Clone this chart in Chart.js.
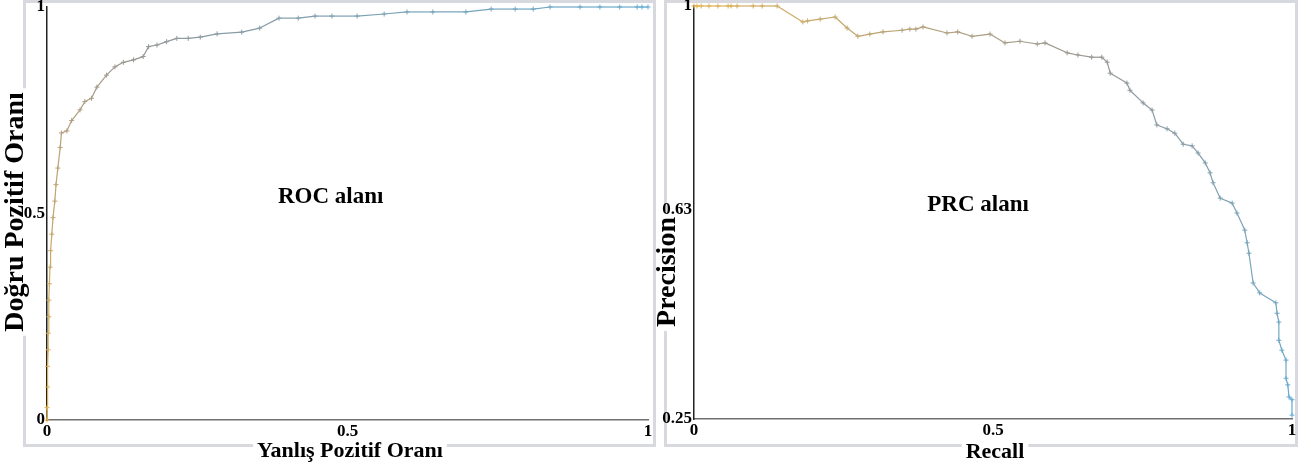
<!DOCTYPE html>
<html><head><meta charset="utf-8">
<script src="https://cdn.jsdelivr.net/npm/chart.js@4.4.0/dist/chart.umd.min.js"></script>
<style>
html,body{margin:0;padding:0;background:#fff;}
#wrap{position:relative;width:1311px;height:468px;overflow:hidden;background:#fff;}
#c1{position:absolute;left:0;top:0;}
#c2{position:absolute;left:656px;top:0;}
</style></head><body>
<div id="wrap"><canvas id="c1" width="656" height="468"></canvas><canvas id="c2" width="655" height="468"></canvas></div>
<script>
// ---- data ----
const rocFpr = [0,0,0.001,0.001,0.002,0.002,0.003,0.003,0.004,0.005,0.006,0.008,0.010,0.013,0.015,0.018,0.022,0.024,0.033,0.041,0.055,0.063,0.074,0.083,0.099,0.113,0.127,0.144,0.160,0.169,0.183,0.199,0.216,0.235,0.255,0.283,0.324,0.354,0.386,0.418,0.446,0.474,0.516,0.561,0.599,0.642,0.697,0.739,0.779,0.809,0.837,0.887,0.920,0.953,0.982,0.990,1];
const rocTpr = [0,0.03,0.08,0.13,0.17,0.21,0.25,0.29,0.33,0.37,0.41,0.45,0.49,0.53,0.57,0.61,0.66,0.695,0.70,0.725,0.751,0.771,0.779,0.806,0.835,0.855,0.866,0.872,0.880,0.904,0.908,0.916,0.924,0.924,0.927,0.935,0.939,0.949,0.973,0.973,0.978,0.978,0.978,0.983,0.988,0.988,0.988,0.995,0.995,0.995,1,1,1,1,1,1,1];
const prcRecall = [0,0.005,0.012,0.025,0.040,0.057,0.062,0.072,0.099,0.114,0.139,0.182,0.190,0.211,0.236,0.256,0.274,0.294,0.316,0.348,0.361,0.371,0.383,0.423,0.441,0.465,0.495,0.520,0.545,0.574,0.587,0.624,0.642,0.665,0.682,0.691,0.696,0.724,0.729,0.751,0.766,0.774,0.791,0.804,0.818,0.833,0.843,0.855,0.863,0.868,0.880,0.900,0.908,0.921,0.925,0.928,0.935,0.946,0.973,0.975,0.978,0.978,0.983,0.990,0.990,0.993,0.995,1.0,1.0];
const prcPrecision = [1,1,1,1,1,1,1,1,1,1,1,0.971,0.973,0.976,0.980,0.960,0.945,0.949,0.953,0.956,0.958,0.958,0.962,0.951,0.953,0.945,0.949,0.933,0.936,0.931,0.933,0.915,0.911,0.907,0.907,0.898,0.878,0.860,0.847,0.824,0.811,0.784,0.777,0.769,0.749,0.746,0.733,0.715,0.697,0.679,0.651,0.642,0.624,0.593,0.570,0.551,0.497,0.479,0.461,0.442,0.426,0.393,0.375,0.357,0.324,0.312,0.290,0.285,0.257];
const xTicks = [0, 0.5, 1];
const rocYTicks = [0, 0.5, 1];
const prcYTicks = [0.25, 0.63, 1];
const rocXTitle = 'Yanlış Pozitif Oranı';
const rocYTitle = 'Doğru Pozitif Oranı';
const rocLabel = 'ROC alanı';
const prcXTitle = 'Recall';
const prcYTitle = 'Precision';
const prcLabel = 'PRC alanı';
const rocLabelPos = [0.472, 0.54];
const prcLabelPos = [0.475, 0.639];

// ---- style ----
const FONT = '"Liberation Serif", "Times New Roman", serif';
const BORDER = '#d8d8df';
const stops = [[228,180,80],[150,150,150],[100,172,210]];
function colorAt(t){
  let a,b,f;
  if (t < 0.5){ a=stops[0]; b=stops[1]; f=t/0.5; } else { a=stops[1]; b=stops[2]; f=(t-0.5)/0.5; }
  const c = a.map((v,i)=>Math.round(v+(b[i]-v)*f));
  return 'rgb('+c.join(',')+')';
}

function textBox(ctx, text, x, y, rot, size){
  ctx.save();
  ctx.translate(x, y);
  ctx.rotate(rot);
  ctx.font = 'bold ' + size + 'px ' + FONT;
  const w = ctx.measureText(text).width;
  ctx.fillStyle = '#fff';
  ctx.fillRect(-w/2 - 4, -size*0.45, w + 8, size*0.9);
  ctx.restore();
}
function drawText(ctx, text, x, y, rot, size){
  ctx.save();
  ctx.translate(x, y);
  ctx.rotate(rot);
  ctx.font = 'bold ' + size + 'px ' + FONT;
  ctx.fillStyle = '#000';
  ctx.textAlign = 'center';
  ctx.textBaseline = 'middle';
  ctx.fillText(text, 0, 0);
  ctx.restore();
}

function panelPlugin(p){
  return {
    id: 'panel',
    beforeDraw(chart){
      const c = chart.ctx;
      c.save();
      c.fillStyle = '#fff';
      c.fillRect(0, 0, chart.width, chart.height);
      c.strokeStyle = BORDER;
      c.lineWidth = 3;
      c.strokeRect(p.border[0], p.border[1], p.border[2], p.border[3]);
      c.restore();
      textBox(c, p.xTitle, p.xTitlePos[0], p.xTitlePos[1], 0, p.xSize);
      textBox(c, p.yTitle, p.yTitlePos[0], p.yTitlePos[1], -Math.PI/2, p.ySize);
    },
    afterDraw(chart){
      const c = chart.ctx;
      drawText(c, p.xTitle, p.xTitlePos[0], p.xTitlePos[1], 0, p.xSize);
      drawText(c, p.yTitle, p.yTitlePos[0], p.yTitlePos[1], -Math.PI/2, p.ySize);
      const sx = chart.scales.x, sy = chart.scales.y;
      drawText(c, p.label, sx.getPixelForValue(p.labelPos[0]), sy.getPixelForValue(p.labelPos[1]), 0, 23);
    }
  };
}

function makeChart(canvas, xs, ys, yMin, yTicks, yWidth, pad, p){
  const n = xs.length;
  const tickFont = {family: FONT, size: 17, weight: 'bold'};
  return new Chart(canvas, {
    type: 'line',
    data: {
      datasets: [{
        data: xs.map((x,i)=>({x: x, y: ys[i]})),
        borderWidth: 1.2,
        borderColor: colorAt(0.5),
        segment: { borderColor: ctx => colorAt(ctx.p0DataIndex/(n-1)) },
        pointStyle: 'cross',
        pointRadius: 2.5,
        pointBorderWidth: 1,
        pointBorderColor: ctx => colorAt(ctx.dataIndex/(n-1)),
        pointBackgroundColor: 'rgba(0,0,0,0)',
        tension: 0,
        clip: false
      }]
    },
    options: {
      responsive: false,
      animation: false,
      devicePixelRatio: 1,
      layout: { padding: pad },
      plugins: { legend: {display:false}, tooltip: {enabled:false} },
      scales: {
        x: {
          type: 'linear', min: 0, max: 1,
          afterBuildTicks: s => { s.ticks = xTicks.map(v=>({value:v})); },
          afterFit: s => { s.height = 48; s.paddingLeft = 0; s.paddingRight = 0; },
          grid: { display: false, drawTicks: false },
          border: { display: true, color: '#707070', width: 1.5 },
          ticks: { callback: v => String(v), font: tickFont, color: '#000', padding: 1, maxRotation: 0, autoSkip: false }
        },
        y: {
          type: 'linear', min: yMin, max: 1,
          afterBuildTicks: s => { s.ticks = yTicks.map(v=>({value:v})); },
          afterFit: s => { s.width = yWidth; s.paddingTop = 0; s.paddingBottom = 0; },
          grid: { display: false, drawTicks: false },
          border: { display: true, color: '#222', width: 1.5 },
          ticks: { callback: v => String(v), font: tickFont, color: '#000', padding: 2, autoSkip: false }
        }
      }
    },
    plugins: [panelPlugin(p)]
  });
}

makeChart(document.getElementById('c1'), rocFpr, rocTpr, 0, rocYTicks, 47,
  {top: 7, right: 8, bottom: 0, left: 0},
  {border: [24.5, 1.5, 630, 444], xTitle: rocXTitle, xTitlePos: [350, 451], xSize: 22,
   yTitle: rocYTitle, yTitlePos: [16, 212], ySize: 28, label: rocLabel, labelPos: rocLabelPos});

makeChart(document.getElementById('c2'), prcRecall, prcPrecision, 0.25, prcYTicks, 38,
  {top: 6, right: 19, bottom: 1, left: 0},
  {border: [9.5, 1.5, 631, 444], xTitle: prcXTitle, xTitlePos: [339, 452], xSize: 22,
   yTitle: prcYTitle, yTitlePos: [12, 272], ySize: 28, label: prcLabel, labelPos: prcLabelPos});
</script>
</body></html>
